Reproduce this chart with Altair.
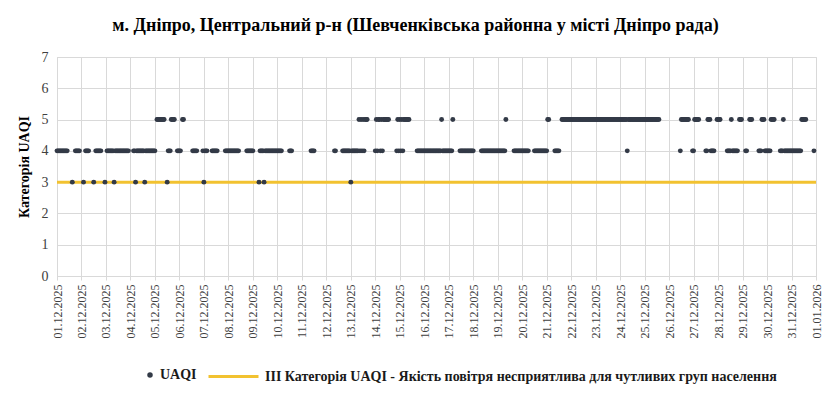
import altair as alt
import pandas as pd

title_text = "м. Дніпро, Центральний р-н (Шевченківська районна у місті Дніпро рада)"
y_title = "Категорія UAQI"
series_point = "UAQI"
series_line = "III Категорія UAQI - Якість повітря несприятлива для чутливих груп населення"
threshold_value = [3]
start_day = "2025-12-01"
end_day = "2026-01-01"
y_ticks = [0, 1, 2, 3, 4, 5, 6, 7]

# hourly UAQI category, one string per day (hours 00..23), '.' = no value
day_hours = [
    "44444444444....3..44444.",  # 01.12
    "..3.4444....3.444444...3",  # 02.12
    ".4444444344444444444444.",  # 03.12
    "...443444444443444444444",  # 04.12
    "4.55555555..34445555..44",  # 05.12
    "44.55........44444.....4",  # 06.12
    "3444....444444.......444",  # 07.12
    "44444444444.......444444",  # 08.12
    "4.....344443444444444444",  # 09.12
    "44444.......444.........",  # 10.12
    ".........4444...........",  # 11.12
    "........44......44444444",  # 12.12
    "34444444545454555.......",  # 13.12
    "45455454555555.......454",  # 14.12
    "5454555555.......4444444",  # 15.12
    "444444444444444445444444",  # 16.12
    "44445......4444444444444",  # 17.12
    "4.......4444444444444444",  # 18.12
    "444444445.......44444444",  # 19.12
    "4444444.....444444444444",  # 20.12
    "455.....44444..555555555",  # 21.12
    "555555555555555555555555",  # 22.12
    "555555555555555555555555",  # 23.12
    "555555545555555555555555",  # 24.12
    "555555555555555.........",  # 25.12
    "...........455555555...4",  # 26.12
    "455555......445554444..5",  # 27.12
    "555......44445444444.555",  # 28.12
    "...44..555......44455544",  # 29.12
    "44445555.....44454444444",  # 30.12
    "444444444455555.......4.",  # 31.12
]

rows = []
base = pd.Timestamp(start_day)
for d, s in enumerate(day_hours):
    for h, c in enumerate(s):
        if c != ".":
            rows.append({"time": base + pd.Timedelta(days=d, hours=h),
                         "value": int(c), "series": series_point})
points_df = pd.DataFrame(rows)
thr_df = pd.DataFrame({"value": threshold_value, "series": [series_line]})

days = pd.date_range(start_day, end_day, freq="D")
tick_vals = [alt.DateTime(year=int(t.year), month=int(t.month), date=int(t.day)) for t in days]
x_dom = [tick_vals[0], tick_vals[-1]]

FONT = "Liberation Serif"
DOT = "#333a47"
GOLD = "#F2C230"

x_enc = alt.X(
    "time:T",
    title=None,
    scale=alt.Scale(domain=x_dom, nice=False),
    axis=alt.Axis(values=tick_vals, format="%d.%m.%Y", labelAngle=270,
                  labelFont=FONT, labelFontSize=12, labelColor="#404040",
                  labelPadding=4, tickSize=4, tickColor="#d9d9d9",
                  grid=True, gridColor="#d9d9d9", domainColor="#d9d9d9",
                  labelOverlap=False),
)
y_enc = alt.Y(
    "value:Q",
    scale=alt.Scale(domain=[0, 7], nice=False),
    axis=alt.Axis(values=y_ticks, title=y_title, titleFont=FONT, titleFontSize=14,
                  titleFontWeight="bold", titleColor="#000000", titlePadding=10,
                  labelFont=FONT, labelFontSize=14, labelColor="#404040",
                  labelPadding=9, ticks=False, grid=True, gridColor="#d9d9d9",
                  domainColor="#d9d9d9"),
)

rule = alt.Chart(thr_df).mark_rule(strokeWidth=3).encode(
    y=y_enc,
    stroke=alt.Stroke(
        "series:N",
        scale=alt.Scale(domain=[series_line], range=[GOLD]),
        legend=alt.Legend(orient="none", legendX=150, legendY=293, title=None,
                          symbolType="stroke", symbolSize=2500, symbolStrokeWidth=3,
                          labelFont=FONT, labelFontSize=14, labelFontWeight="bold",
                          labelColor="#1a1a1a", labelLimit=800, padding=0,
                          labelOffset=5),
    ),
)

points = alt.Chart(points_df).mark_circle(size=24, opacity=1).encode(
    x=x_enc,
    y=y_enc,
    color=alt.Color(
        "series:N",
        scale=alt.Scale(domain=[series_point], range=[DOT]),
        legend=alt.Legend(orient="none", legendX=86, legendY=311, title=None,
                          symbolType="circle", symbolSize=30,
                          labelFont=FONT, labelFontSize=14, labelFontWeight="bold",
                          labelColor="#1a1a1a", padding=0, labelOffset=3),
    ),
)

chart = alt.layer(rule, points).properties(
    width=759,
    height=219,
    title=alt.Title(title_text, font=FONT, fontSize=18, fontWeight="bold",
                    color="#000000", anchor="middle", dx=-21, offset=15),
    autosize=alt.AutoSizeParams(type="none"),
    padding={"left": 49, "top": 49, "right": 8, "bottom": 111},
).configure_view(strokeWidth=0).configure(background="#ffffff")

chart.save("out.html", embed_options={"renderer": "svg", "actions": False})
